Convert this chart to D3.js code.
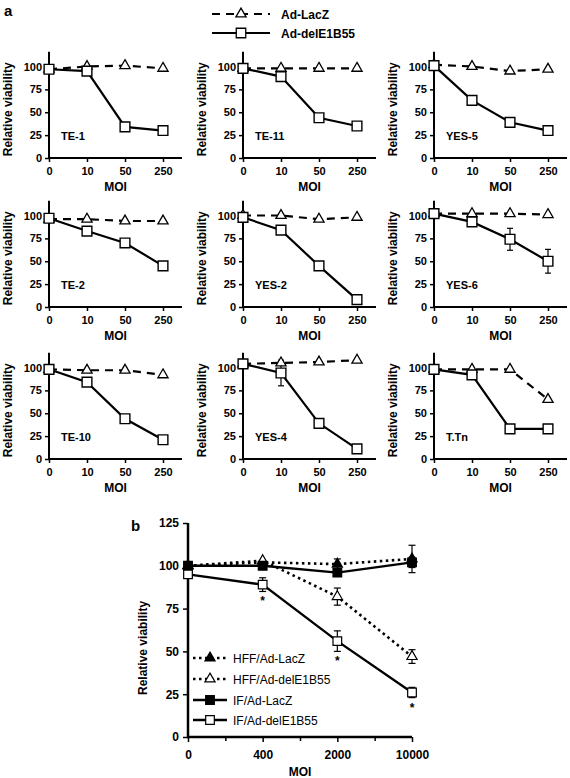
<!DOCTYPE html>
<html><head><meta charset="utf-8">
<script src="https://cdn.jsdelivr.net/npm/d3@7"></script>
<style>body{margin:0;background:#fff}svg{display:block}text{font-family:"Liberation Sans",Arial,sans-serif}</style>
</head><body>
<svg id="c" width="570" height="778"></svg>
<script>
// ---------- DATA ----------
const panelNames = ["TE-1","TE-11","YES-5","TE-2","YES-2","YES-6","TE-10","YES-4","T.Tn"];
const moiA = ["0","10","50","250"];
const yTicksA = [0,25,50,75,100];
const lacZ = [[97,100,101,98],[98,98,98,98],[102,100,95,97],[96,96,94,94],[100,100,96,98],[102,102,102,101],[98,97,97,92],[104,105,106,108],[98,98,98,65]];
const lacZErr = [[1,1,1,1],[1,1,1,1],[1,1,1,1],[1,1,1,1],[1,2,1,1],[1,1,1,1],[1,1,2,1],[1,1,1,1],[1,1,1,1]];
const delE1B55 = [[97,95,34,30],[98,89,44,35],[101,63,39,30],[97,83,70,45],[98,84,45,8],[102,93,74,50],[98,84,44,21],[104,94,39,11],[98,92,33,33]];
const delErr = [[1,1,2,1],[1,2,1,1],[2,2,1,1],[1,1,2,1],[1,2,2,2],[1,3,12,13],[1,2,1,1],[1,14,3,4],[1,4,1,1]];
const legendA = ["Ad-LacZ","Ad-delE1B55"];

const moiB = ["0","400","2000","10000"];
const yTicksB = [0,25,50,75,100,125];
const seriesB = ["HFF/Ad-LacZ","HFF/Ad-delE1B55","IF/Ad-LacZ","IF/Ad-delE1B55"];
const hffLacZ = [100,102,101,104];
const hffLacZErr = [1,1,3,8];
const hffDel = [100,103,82,47];
const hffDelErr = [1,1,5,4];
const ifLacZ = [100,100,96,102];
const ifLacZErr = [1,1,2,3];
const ifDel = [95,89,56,26];
const ifDelErr = [1,4,6,3];
const starsB = [false,true,true,true];

// ---------- DRAW ----------
const svg = d3.select("#c");
const font = '"Liberation Sans",Arial,sans-serif';

svg.append("text").attr("x",4).attr("y",16).attr("font-size",15).attr("font-weight","bold").text("a");

// legend a
const lgA = svg.append("g");
[0,1].forEach(k=>{
  const y = k===0?14:33;
  lgA.append("line").attr("x1",212).attr("x2",270).attr("y1",y).attr("y2",y)
    .attr("stroke","#000").attr("stroke-width",2.2).attr("stroke-dasharray",k===0?"8,6":null);
  lgA.append("path").attr("transform",`translate(241,${y})`)
    .attr("d",d3.symbol(k===0?d3.symbolTriangle:d3.symbolSquare,k===0?45:90)())
    .attr("fill","#fff").attr("stroke","#000").attr("stroke-width",1.3);
  lgA.append("text").attr("x",281).attr("y",y+4.5).attr("font-size",12).attr("font-weight","bold").text(legendA[k]);
});

const colX = [49,243,434];
const rowY0 = [158,307,459];
const unitPx = 0.915;

panelNames.forEach((name,p)=>{
  const c = p%3, r = Math.floor(p/3);
  const ax = colX[c], y0 = rowY0[r];
  const x = d3.scaleLinear().domain([0,3.5]).range([ax, ax+133]);
  const y = d3.scaleLinear().domain([0,116]).range([y0, y0-116*unitPx]);
  const g = svg.append("g");
  // y axis
  const ya = g.append("g").attr("transform",`translate(${ax},0)`)
    .call(d3.axisLeft(y).tickValues(yTicksA).tickSize(4).tickPadding(3));
  const xa = g.append("g").attr("transform",`translate(0,${y0})`)
    .call(d3.axisBottom(x).tickValues([0,1,2,3]).tickFormat(i=>moiA[i]).tickSize(4).tickPadding(5));
  [ya,xa].forEach(a=>{
    a.select(".domain").attr("stroke-width",2).attr("d", null);
    a.selectAll(".tick line").attr("stroke-width",1.5);
    a.selectAll("text").attr("font-size",11).attr("font-weight","bold").attr("font-family",font).attr("fill","#000");
  });
  ya.select(".domain").remove(); xa.select(".domain").remove();
  g.append("line").attr("x1",ax).attr("x2",ax).attr("y1",y0+1).attr("y2",y(116)).attr("stroke","#000").attr("stroke-width",2);
  g.append("line").attr("x1",ax-1).attr("x2",x(3.5)).attr("y1",y0).attr("y2",y0).attr("stroke","#000").attr("stroke-width",2);
  // labels
  g.append("text").attr("transform",`translate(${ax-37},${y(50)-3}) rotate(-90)`).attr("text-anchor","middle")
    .attr("font-size",12).attr("font-weight","bold").text("Relative viability");
  g.append("text").attr("x",x(1.75)).attr("y",y0+33).attr("text-anchor","middle")
    .attr("font-size",12).attr("font-weight","bold").text("MOI");
  g.append("text").attr("x",ax+12).attr("y",y(24)+4).attr("font-size",11).attr("font-weight","bold").text(name);
  const line = d3.line().x((d,i)=>x(i)).y(d=>y(d));
  // error bars
  const eb = (vals,errs)=>vals.forEach((v,i)=>{
    const e = errs[i]; if(e<=1) return;
    g.append("line").attr("x1",x(i)).attr("x2",x(i)).attr("y1",y(v-e)).attr("y2",y(v+e)).attr("stroke","#000").attr("stroke-width",1.2);
    [v-e,v+e].forEach(t=>g.append("line").attr("x1",x(i)-3).attr("x2",x(i)+3).attr("y1",y(t)).attr("y2",y(t)).attr("stroke","#000").attr("stroke-width",1.2));
  });
  eb(lacZ[p],lacZErr[p]); eb(delE1B55[p],delErr[p]);
  g.append("path").attr("d",line(lacZ[p])).attr("fill","none").attr("stroke","#000").attr("stroke-width",2.2).attr("stroke-dasharray","8,6");
  g.append("path").attr("d",line(delE1B55[p])).attr("fill","none").attr("stroke","#000").attr("stroke-width",2.2);
  lacZ[p].forEach((v,i)=>g.append("path").attr("transform",`translate(${x(i)},${y(v)})`)
    .attr("d",d3.symbol(d3.symbolTriangle,45)()).attr("fill","#fff").attr("stroke","#000").attr("stroke-width",1.3));
  delE1B55[p].forEach((v,i)=>g.append("path").attr("transform",`translate(${x(i)},${y(v)})`)
    .attr("d",d3.symbol(d3.symbolSquare,95)()).attr("fill","#fff").attr("stroke","#000").attr("stroke-width",1.4));
});

// ---------- PART b ----------
const gb = svg.append("g");
gb.append("text").attr("x",131).attr("y",531).attr("font-size",15).attr("font-weight","bold").text("b");
const xb = d3.scaleLinear().domain([0,3]).range([188,412]);
const yb = d3.scaleLinear().domain([0,125]).range([737,523]);
const yaB = gb.append("g").attr("transform","translate(188,0)").call(d3.axisLeft(yb).tickValues(yTicksB).tickSize(5).tickPadding(4));
const xaB = gb.append("g").attr("transform","translate(0,737)").call(d3.axisBottom(xb).tickValues([0,1,2,3]).tickFormat(i=>moiB[i]).tickSize(5).tickPadding(8));
gb.append("g").attr("transform","translate(0,737)").call(d3.axisBottom(xb).tickValues([0.5,1.5,2.5]).tickFormat("").tickSize(4))
  .call(a=>{a.select(".domain").remove(); a.selectAll("line").attr("stroke-width",1.5);});
[yaB,xaB].forEach(a=>{
  a.select(".domain").remove();
  a.selectAll(".tick line").attr("stroke-width",1.5);
  a.selectAll("text").attr("font-size",12).attr("font-weight","bold").attr("font-family",font).attr("fill","#000");
});
gb.append("line").attr("x1",188).attr("x2",188).attr("y1",738).attr("y2",yb(125)).attr("stroke","#000").attr("stroke-width",2.5);
gb.append("line").attr("x1",187).attr("x2",412).attr("y1",737).attr("y2",737).attr("stroke","#000").attr("stroke-width",2.5);
gb.append("text").attr("transform",`translate(147,${yb(52)}) rotate(-90)`).attr("text-anchor","middle")
  .attr("font-size",12).attr("font-weight","bold").text("Relative viability");
gb.append("text").attr("x",xb(1.5)).attr("y",776).attr("text-anchor","middle").attr("font-size",12).attr("font-weight","bold").text("MOI");

const dataB = [hffLacZ,hffDel,ifLacZ,ifDel];
const errB = [hffLacZErr,hffDelErr,ifLacZErr,ifDelErr];
const symB = [d3.symbolTriangle,d3.symbolTriangle,d3.symbolSquare,d3.symbolSquare];
const fillB = ["#000","#fff","#000","#fff"];
const dashB = ["2.5,3.5","2.5,3.5",null,null];
const lineB = d3.line().x((d,i)=>xb(i)).y(d=>yb(d));
dataB.forEach((vals,s)=>{
  vals.forEach((v,i)=>{
    const e = errB[s][i]; if(e<=1) return;
    gb.append("line").attr("x1",xb(i)).attr("x2",xb(i)).attr("y1",yb(v-e)).attr("y2",yb(v+e)).attr("stroke","#000").attr("stroke-width",1.2);
    [v-e,v+e].forEach(t=>gb.append("line").attr("x1",xb(i)-3.5).attr("x2",xb(i)+3.5).attr("y1",yb(t)).attr("y2",yb(t)).attr("stroke","#000").attr("stroke-width",1.2));
  });
});
dataB.forEach((vals,s)=>{
  gb.append("path").attr("d",lineB(vals)).attr("fill","none").attr("stroke","#000")
    .attr("stroke-width",s<2?2.6:2.4).attr("stroke-dasharray",dashB[s]);
});
dataB.forEach((vals,s)=>{
  vals.forEach((v,i)=>gb.append("path").attr("transform",`translate(${xb(i)},${yb(v)})`)
    .attr("d",d3.symbol(symB[s],s<2?45:75)()).attr("fill",fillB[s]).attr("stroke","#000").attr("stroke-width",1.2));
});
ifDel.forEach((v,i)=>{
  if(!starsB[i]) return;
  gb.append("text").attr("x",xb(i)).attr("y",yb(v-ifDelErr[i])+14).attr("text-anchor","middle").attr("font-size",12).attr("font-weight","bold").text("*");
});
// legend b
const lgY = [658,679,700,720];
seriesB.forEach((name,s)=>{
  gb.append("line").attr("x1",193).attr("x2",227).attr("y1",lgY[s]).attr("y2",lgY[s]).attr("stroke","#000")
    .attr("stroke-width",s<2?2.6:2.4).attr("stroke-dasharray",dashB[s]);
  gb.append("path").attr("transform",`translate(210,${lgY[s]})`).attr("d",d3.symbol(symB[s],s<2?45:75)())
    .attr("fill",fillB[s]).attr("stroke","#000").attr("stroke-width",1.2);
  gb.append("text").attr("x",233).attr("y",lgY[s]+4.5).attr("font-size",12).text(name);
});
</script>
</body></html>
